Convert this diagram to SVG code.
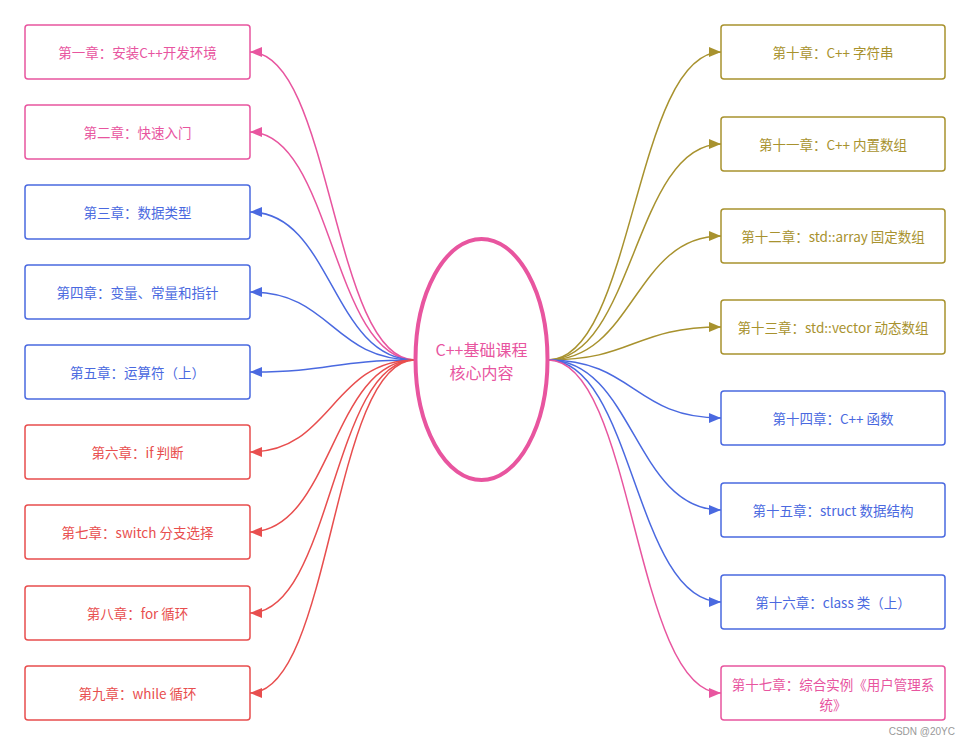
<svg xmlns="http://www.w3.org/2000/svg" width="971" height="746" viewBox="0 0 971 746">
<style>
.box{fill:#fff;stroke-width:1.5}
.t{font-family:"Noto Sans CJK SC","Microsoft YaHei",sans-serif;font-size:13.5px;text-anchor:middle;dominant-baseline:central}
.c{fill:none;stroke-width:1.5}
.pk{stroke:#E8559F}.pkt{fill:#E8559F}
.bl{stroke:#4A69E0}.blt{fill:#4A69E0}
.rd{stroke:#E84E4E}.rdt{fill:#E84E4E}
.ol{stroke:#A8922E}.olt{fill:#A8922E}
</style>
<defs>
<marker id="mpk" markerWidth="12" markerHeight="10" refX="12" refY="5" orient="auto" markerUnits="userSpaceOnUse"><path d="M0,0 L12,5 L0,10 z" fill="#E8559F"/></marker>
<marker id="mbl" markerWidth="12" markerHeight="10" refX="12" refY="5" orient="auto" markerUnits="userSpaceOnUse"><path d="M0,0 L12,5 L0,10 z" fill="#4A69E0"/></marker>
<marker id="mrd" markerWidth="12" markerHeight="10" refX="12" refY="5" orient="auto" markerUnits="userSpaceOnUse"><path d="M0,0 L12,5 L0,10 z" fill="#E84E4E"/></marker>
<marker id="mol" markerWidth="12" markerHeight="10" refX="12" refY="5" orient="auto" markerUnits="userSpaceOnUse"><path d="M0,0 L12,5 L0,10 z" fill="#A8922E"/></marker>
</defs>
<rect width="971" height="746" fill="#fff"/>
<g id="connectors">
<path class="c pk" marker-end="url(#mpk)" d="M415,360 C332,360 332,52 250,52"/>
<path class="c pk" marker-end="url(#mpk)" d="M415,360 C332,360 332,132 250,132"/>
<path class="c bl" marker-end="url(#mbl)" d="M415,360 C332,360 332,212 250,212"/>
<path class="c bl" marker-end="url(#mbl)" d="M415,360 C332,360 332,292 250,292"/>
<path class="c bl" marker-end="url(#mbl)" d="M415,360 C332,360 332,372 250,372"/>
<path class="c rd" marker-end="url(#mrd)" d="M415,360 C332,360 332,452 250,452"/>
<path class="c rd" marker-end="url(#mrd)" d="M415,360 C332,360 332,532 250,532"/>
<path class="c rd" marker-end="url(#mrd)" d="M415,360 C332,360 332,613 250,613"/>
<path class="c rd" marker-end="url(#mrd)" d="M415,360 C332,360 332,693 250,693"/>
<path class="c ol" marker-end="url(#mol)" d="M548,360 C634,360 634,52 721,52"/>
<path class="c ol" marker-end="url(#mol)" d="M548,360 C634,360 634,144 721,144"/>
<path class="c ol" marker-end="url(#mol)" d="M548,360 C634,360 634,236 721,236"/>
<path class="c ol" marker-end="url(#mol)" d="M548,360 C634,360 634,327 721,327"/>
<path class="c bl" marker-end="url(#mbl)" d="M548,360 C634,360 634,418 721,418"/>
<path class="c bl" marker-end="url(#mbl)" d="M548,360 C634,360 634,510 721,510"/>
<path class="c bl" marker-end="url(#mbl)" d="M548,360 C634,360 634,602 721,602"/>
<path class="c pk" marker-end="url(#mpk)" d="M548,360 C634,360 634,693 721,693"/>
</g>
<g id="center">
<ellipse cx="481.5" cy="359.5" rx="66" ry="120.5" fill="#fff" stroke="#E8559F" stroke-width="4"/>
<text class="t pkt" x="481.5" y="349" style="font-size:16px">C++基础课程</text>
<text class="t pkt" x="481.5" y="372" style="font-size:16px">核心内容</text>
</g>
<g id="n1"><rect class="box pk" x="25" y="25" width="225" height="54" rx="3"/><text class="t pkt" x="137.5" y="52">第一章：安装C++开发环境</text></g>
<g id="n2"><rect class="box pk" x="25" y="105" width="225" height="54" rx="3"/><text class="t pkt" x="137.5" y="132">第二章：快速入门</text></g>
<g id="n3"><rect class="box bl" x="25" y="185" width="225" height="54" rx="3"/><text class="t blt" x="137.5" y="212">第三章：数据类型</text></g>
<g id="n4"><rect class="box bl" x="25" y="265" width="225" height="54" rx="3"/><text class="t blt" x="137.5" y="292">第四章：变量、常量和指针</text></g>
<g id="n5"><rect class="box bl" x="25" y="345" width="225" height="54" rx="3"/><text class="t blt" x="137.5" y="372">第五章：运算符（上）</text></g>
<g id="n6"><rect class="box rd" x="25" y="425" width="225" height="54" rx="3"/><text class="t rdt" x="137.5" y="452">第六章：if 判断</text></g>
<g id="n7"><rect class="box rd" x="25" y="505" width="225" height="54" rx="3"/><text class="t rdt" x="137.5" y="532">第七章：switch 分支选择</text></g>
<g id="n8"><rect class="box rd" x="25" y="586" width="225" height="54" rx="3"/><text class="t rdt" x="137.5" y="613">第八章：for 循环</text></g>
<g id="n9"><rect class="box rd" x="25" y="666" width="225" height="54" rx="3"/><text class="t rdt" x="137.5" y="693">第九章：while 循环</text></g>
<g id="n10"><rect class="box ol" x="721" y="25" width="224" height="54" rx="3"/><text class="t olt" x="833" y="52">第十章：C++ 字符串</text></g>
<g id="n11"><rect class="box ol" x="721" y="117" width="224" height="54" rx="3"/><text class="t olt" x="833" y="144">第十一章：C++ 内置数组</text></g>
<g id="n12"><rect class="box ol" x="721" y="209" width="224" height="54" rx="3"/><text class="t olt" x="833" y="236">第十二章：std::array 固定数组</text></g>
<g id="n13"><rect class="box ol" x="721" y="300" width="224" height="54" rx="3"/><text class="t olt" x="833" y="327">第十三章：std::vector 动态数组</text></g>
<g id="n14"><rect class="box bl" x="721" y="391" width="224" height="54" rx="3"/><text class="t blt" x="833" y="418">第十四章：C++ 函数</text></g>
<g id="n15"><rect class="box bl" x="721" y="483" width="224" height="54" rx="3"/><text class="t blt" x="833" y="510">第十五章：struct 数据结构</text></g>
<g id="n16"><rect class="box bl" x="721" y="575" width="224" height="54" rx="3"/><text class="t blt" x="833" y="602">第十六章：class 类（上）</text></g>
<g id="n17"><rect class="box pk" x="721" y="666" width="224" height="54" rx="3"/><text class="t pkt" x="833" y="683.5">第十七章：综合实例《用户管理系</text><text class="t pkt" x="833" y="703.5">统》</text></g>
<text x="955" y="735" text-anchor="end" font-family="Liberation Sans,sans-serif" font-size="10" fill="#999">CSDN @20YC</text>
</svg>
